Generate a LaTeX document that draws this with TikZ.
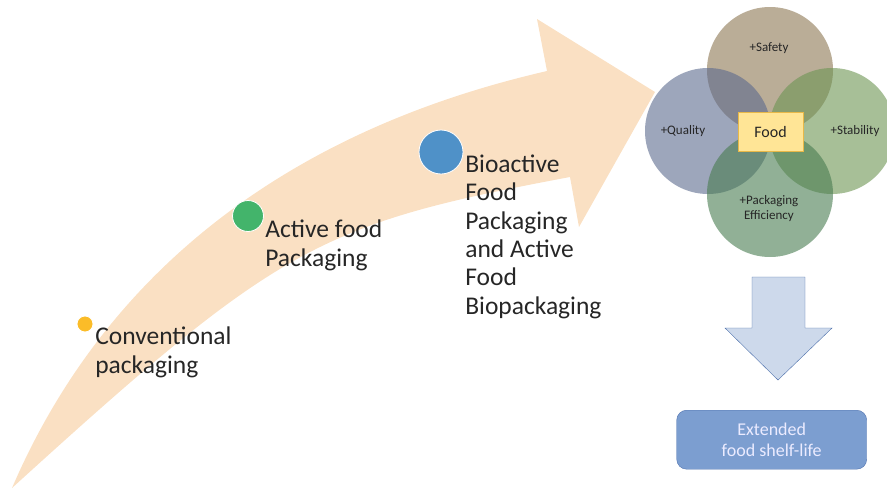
\documentclass[tikz,border=0pt]{standalone}
\usepackage{fontspec}
\setmainfont{Carlito}
\usetikzlibrary{positioning}

\definecolor{ink}{RGB}{38,38,38}
\definecolor{band}{RGB}{250,224,195}
\definecolor{convdot}{RGB}{251,188,40}
\definecolor{activedot}{RGB}{67,180,107}
\definecolor{biodot}{RGB}{79,145,200}
\definecolor{safetyc}{RGB}{140,118,82}
\definecolor{qualityc}{RGB}{92,106,142}
\definecolor{stabilityc}{RGB}{108,148,82}
\definecolor{packc}{RGB}{72,124,80}
\definecolor{foodfill}{RGB}{255,229,150}
\definecolor{foodedge}{RGB}{232,184,72}
\definecolor{downfill}{RGB}{205,217,235}
\definecolor{downedge}{RGB}{75,110,170}
\definecolor{shelffill}{RGB}{124,158,208}
\definecolor{shelfedge}{RGB}{82,116,176}

\begin{document}
\begin{tikzpicture}[x = 1pt, y = -1pt, % pixel grid, y grows downwards
                semithick % line style
            ]

            % multi-line text sits on the baseline of its last line
            \tikzstyle{dot}=[circle, draw = white, line width = 0.8pt, inner sep = 0pt]
            \tikzstyle{steptext}=[anchor = base west, inner sep = 0pt, align = left,
            text = ink, font = \fontsize{25.5}{28.3}\selectfont]
            \tikzstyle{petal}=[circle, minimum size = 126pt, inner sep = 0pt,
            fill opacity = 0.6]
            \tikzstyle{petaltext}=[inner sep = 0pt, align = center, text = ink,
            font = \fontsize{13}{15}\selectfont]

            \useasboundingbox (0,0) rectangle (887,490);

            % curved arrow
            \fill[band] (12,488) .. controls (138,195) and (400,105) .. (547,71)
            -- (537,19) -- (655,92) -- (579,227) -- (570,177)
            .. controls (320,224) and (280,244) .. (12,488) -- cycle;

            \node[dot, fill = convdot, minimum size = 16pt] (conv) at (85,324) {};
            \node[dot, fill = activedot, minimum size = 31pt] (active) at (248,216) {};
            \node[dot, fill = biodot, minimum size = 44pt] (bio) at (441,152) {};

            \node[steptext] (convtext) at (95,373) {Conventional\\packaging};
            \node[steptext] (activetext) at (265,266) {Active food\\Packaging};
            \node[steptext] (biotext) at (465,314) {Bioactive\\Food\\Packaging\\and Active\\Food\\Biopackaging};

            % four petals round the food box
            \node[petal, fill = safetyc] (safety) at (770,70) {};
            \node[petal, fill = qualityc] (quality) at (708,131) {};
            \node[petal, fill = stabilityc] (stability) at (832,131) {};
            \node[petal, fill = packc] (pack) at (770,194) {};

            \node[petaltext] at (769,48) {+Safety};
            \node[petaltext] at (683,131) {+Quality};
            \node[petaltext] at (855,131) {+Stability};
            \node[petaltext] at (769,209) {+Packaging\\Efficiency};

            \node[draw = foodedge, fill = foodfill, thin, minimum width = 65pt,
            minimum height = 39pt, text = ink, font = \fontsize{16}{19}\selectfont]
            (food) at (770.5,131.5) {Food};

            % down arrow and result box
            \filldraw[fill = downfill, draw = downedge, thin] (752,277) -- (805,277)
            -- (805,328) -- (832,328) -- (778,380) -- (725,328) -- (752,328) -- cycle;

            \node[draw = shelfedge, fill = shelffill, thin, rounded corners = 10pt,
            minimum width = 190pt, minimum height = 59pt, text = white!92!blue,
            align = center, font = \fontsize{18}{21.5}\selectfont]
            (shelf) at (771.7,439.7) {Extended\\food shelf-life};

\end{tikzpicture}
\end{document}
